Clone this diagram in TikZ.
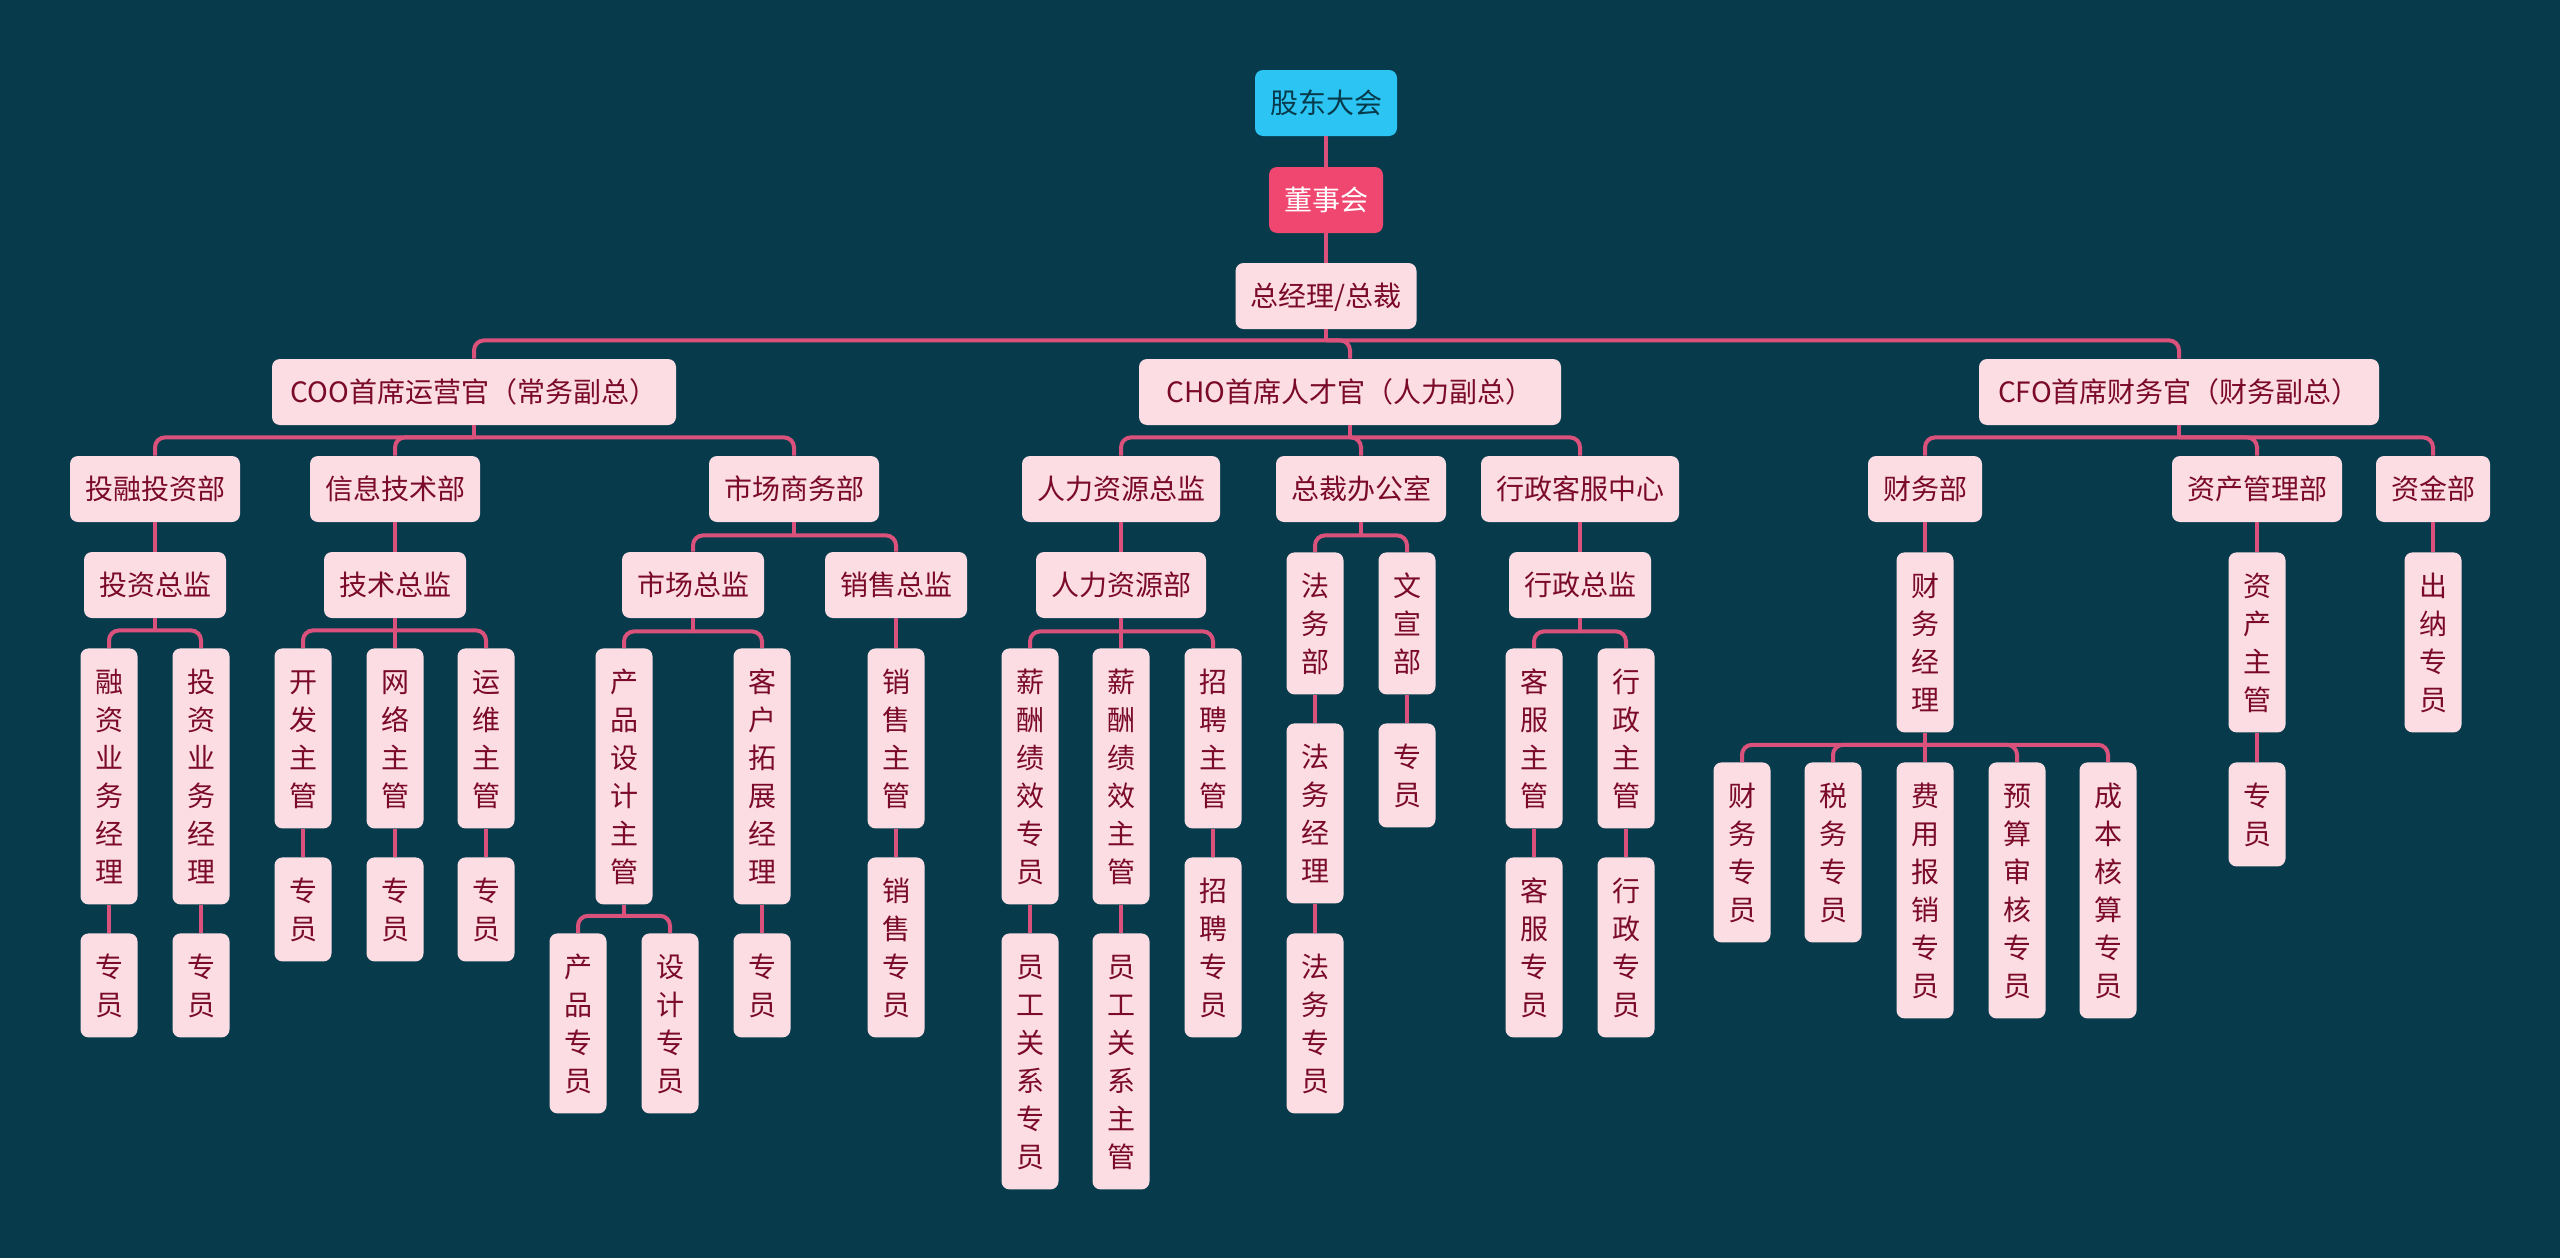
\documentclass[tikz,border=0pt]{standalone}
\usepackage{fontspec}
\setmainfont{Noto Sans CJK SC}
\definecolor{bgc}{HTML}{073B4C}
\definecolor{cyanf}{HTML}{2BC4F3}
\definecolor{boardf}{HTML}{EF476F}
\definecolor{pinkf}{HTML}{FCDDE4}
\definecolor{redt}{HTML}{7A0A28}
\definecolor{linec}{HTML}{DA527B}
\def\vstkx#1{\ifx#1\relax\else\hbox{#1}\expandafter\vstkx\fi}
\newcommand\vstk[1]{\vtop{\baselineskip=19pt\lineskiplimit=-20pt\vstkx#1\relax}}
\newcommand\branch[3]{%
  \draw[conn] (#1.south) -- ++(0,#2) coordinate (#1j);
  \foreach \c in {#3} {\draw[conn, rounded corners=5pt] (#1j) -| (\c.north);}
}
\tikzset{
  base/.style={rounded corners=4pt, fill=pinkf, text=redt,
    font=\fontsize{14pt}{19pt}\selectfont, text height=12.3pt, inner ysep=9.5pt},
  hb/.style={base, text depth=1.7pt, inner xsep=7.5pt},
  topn/.style={hb, fill=cyanf, text=bgc},
  boardn/.style={hb, fill=boardf, text=white},
  vb/.style={base, minimum width=28.5pt, inner xsep=0pt, anchor=north},
  v2/.style={vb, text depth=20.7pt},
  v3/.style={vb, text depth=39.7pt},
  v4/.style={vb, text depth=58.7pt},
  v6/.style={vb, text depth=96.7pt},
  conn/.style={draw=linec, line width=2pt},
}
\begin{document}
\begin{tikzpicture}[x=0.5pt, y=-0.5pt]
\fill[bgc] (0,0) rectangle (2560,1258);
\useasboundingbox (0,0) rectangle (2560,1258);

% level 0
\node[topn] (gd) at (1326,103) {股东大会};
\node[boardn] (dsh) at (1326,200) {董事会};
\node[hb] (zjl) at (1326,296) {总经理/总裁};

% level 1
\node[hb, minimum width=202pt] (coo) at (474,392) {COO首席运营官（常务副总）};
\node[hb, minimum width=211pt] (cho) at (1350,392) {CHO首席人才官（人力副总）};
\node[hb, minimum width=200pt] (cfo) at (2179,392) {CFO首席财务官（财务副总）};

% level 2
\node[hb] (trz) at (155,489) {投融投资部};
\node[hb] (xxjs) at (395,489) {信息技术部};
\node[hb] (scsw) at (794,489) {市场商务部};
\node[hb] (rlzj) at (1121,489) {人力资源总监};
\node[hb] (zcb) at (1361,489) {总裁办公室};
\node[hb] (xzkf) at (1580,489) {行政客服中心};
\node[hb] (cwb) at (1925,489) {财务部};
\node[hb] (zcgl) at (2257,489) {资产管理部};
\node[hb] (zjb) at (2433,489) {资金部};

% level 3
\node[hb] (tzzj) at (155,585) {投资总监};
\node[hb] (jszj) at (395,585) {技术总监};
\node[hb] (sczj) at (693,585) {市场总监};
\node[hb] (xszj) at (896,585) {销售总监};
\node[hb] (rlb) at (1121,585) {人力资源部};
\node[hb] (xzzj) at (1580,585) {行政总监};
\node[v3] (fwb) at (1315,552) {\vstk{法务部}};
\node[v3] (wxb) at (1407,552) {\vstk{文宣部}};
\node[v4] (cwjl) at (1925,552) {\vstk{财务经理}};
\node[v4] (zczg) at (2257,552) {\vstk{资产主管}};
\node[v4] (cnzy) at (2433,552) {\vstk{出纳专员}};

% level 4
\node[v6] (rzyw) at (109,648) {\vstk{融资业务经理}};
\node[v6] (tzyw) at (201,648) {\vstk{投资业务经理}};
\node[v4] (kfzg) at (303,648) {\vstk{开发主管}};
\node[v4] (wlzg) at (395,648) {\vstk{网络主管}};
\node[v4] (ywzg) at (486,648) {\vstk{运维主管}};
\node[v6] (cpsj) at (624,648) {\vstk{产品设计主管}};
\node[v6] (khtz) at (762,648) {\vstk{客户拓展经理}};
\node[v4] (xszg) at (896,648) {\vstk{销售主管}};
\node[v6] (xcjxzy) at (1030,648) {\vstk{薪酬绩效专员}};
\node[v6] (xcjxzg) at (1121,648) {\vstk{薪酬绩效主管}};
\node[v4] (zpzg) at (1213,648) {\vstk{招聘主管}};
\node[v4] (fwjl) at (1315,723) {\vstk{法务经理}};
\node[v2] (wxzy) at (1407,723) {\vstk{专员}};
\node[v4] (kfzgb) at (1534,648) {\vstk{客服主管}};
\node[v4] (xzzg) at (1626,648) {\vstk{行政主管}};
\node[v4] (cwzy) at (1742,762) {\vstk{财务专员}};
\node[v4] (swzy) at (1833,762) {\vstk{税务专员}};
\node[v6] (fybx) at (1925,762) {\vstk{费用报销专员}};
\node[v6] (yssh) at (2017,762) {\vstk{预算审核专员}};
\node[v6] (cbhs) at (2108,762) {\vstk{成本核算专员}};
\node[v2] (zczy) at (2257,762) {\vstk{专员}};

% level 5
\node[v2] (rzzy) at (109,933) {\vstk{专员}};
\node[v2] (tzzy) at (201,933) {\vstk{专员}};
\node[v2] (kfzy) at (303,857) {\vstk{专员}};
\node[v2] (wlzy) at (395,857) {\vstk{专员}};
\node[v2] (ywzy) at (486,857) {\vstk{专员}};
\node[v4] (cpzy) at (578,933) {\vstk{产品专员}};
\node[v4] (sjzy) at (670,933) {\vstk{设计专员}};
\node[v2] (khzy) at (762,933) {\vstk{专员}};
\node[v4] (xszy) at (896,857) {\vstk{销售专员}};
\node[v6] (ygzy) at (1030,933) {\vstk{员工关系专员}};
\node[v6] (ygzg) at (1121,933) {\vstk{员工关系主管}};
\node[v4] (zpzy) at (1213,857) {\vstk{招聘专员}};
\node[v4] (fwzy) at (1315,933) {\vstk{法务专员}};
\node[v4] (kfzyb) at (1534,857) {\vstk{客服专员}};
\node[v4] (xzzy) at (1626,857) {\vstk{行政专员}};

% connectors
\draw[conn] (gd.south) -- (dsh.north);
\draw[conn] (dsh.south) -- (zjl.north);
\branch{zjl}{11}{coo,cho,cfo}
\branch{coo}{12}{trz,xxjs,scsw}
\branch{cho}{12}{rlzj,zcb,xzkf}
\branch{cfo}{12}{cwb,zcgl,zjb}

\draw[conn] (trz.south) -- (tzzj.north);
\draw[conn] (xxjs.south) -- (jszj.north);
\branch{scsw}{13}{sczj,xszj}
\draw[conn] (rlzj.south) -- (rlb.north);
\branch{zcb}{13}{fwb,wxb}
\draw[conn] (xzkf.south) -- (xzzj.north);
\draw[conn] (cwb.south) -- (cwjl.north);
\draw[conn] (zcgl.south) -- (zczg.north);
\draw[conn] (zjb.south) -- (cnzy.north);

\branch{tzzj}{12}{rzyw,tzyw}
\draw[conn] (jszj.south) -- (wlzg.north);
\branch{jszj}{12}{kfzg,ywzg}
\branch{sczj}{13}{cpsj,khtz}
\draw[conn] (xszj.south) -- (xszg.north);
\draw[conn] (rlb.south) -- (xcjxzg.north);
\branch{rlb}{13}{xcjxzy,zpzg}
\draw[conn] (fwb.south) -- (fwjl.north);
\draw[conn] (wxb.south) -- (wxzy.north);
\branch{xzzj}{13}{kfzgb,xzzg}
\draw[conn] (cwjl.south) -- (fybx.north);
\branch{cwjl}{12}{cwzy,swzy,yssh,cbhs}
\draw[conn] (zczg.south) -- (zczy.north);

\draw[conn] (rzyw.south) -- (rzzy.north);
\draw[conn] (tzyw.south) -- (tzzy.north);
\draw[conn] (kfzg.south) -- (kfzy.north);
\draw[conn] (wlzg.south) -- (wlzy.north);
\draw[conn] (ywzg.south) -- (ywzy.north);
\branch{cpsj}{11}{cpzy,sjzy}
\draw[conn] (khtz.south) -- (khzy.north);
\draw[conn] (xszg.south) -- (xszy.north);
\draw[conn] (xcjxzy.south) -- (ygzy.north);
\draw[conn] (xcjxzg.south) -- (ygzg.north);
\draw[conn] (zpzg.south) -- (zpzy.north);
\draw[conn] (fwjl.south) -- (fwzy.north);
\draw[conn] (kfzgb.south) -- (kfzyb.north);
\draw[conn] (xzzg.south) -- (xzzy.north);
\end{tikzpicture}
\end{document}
